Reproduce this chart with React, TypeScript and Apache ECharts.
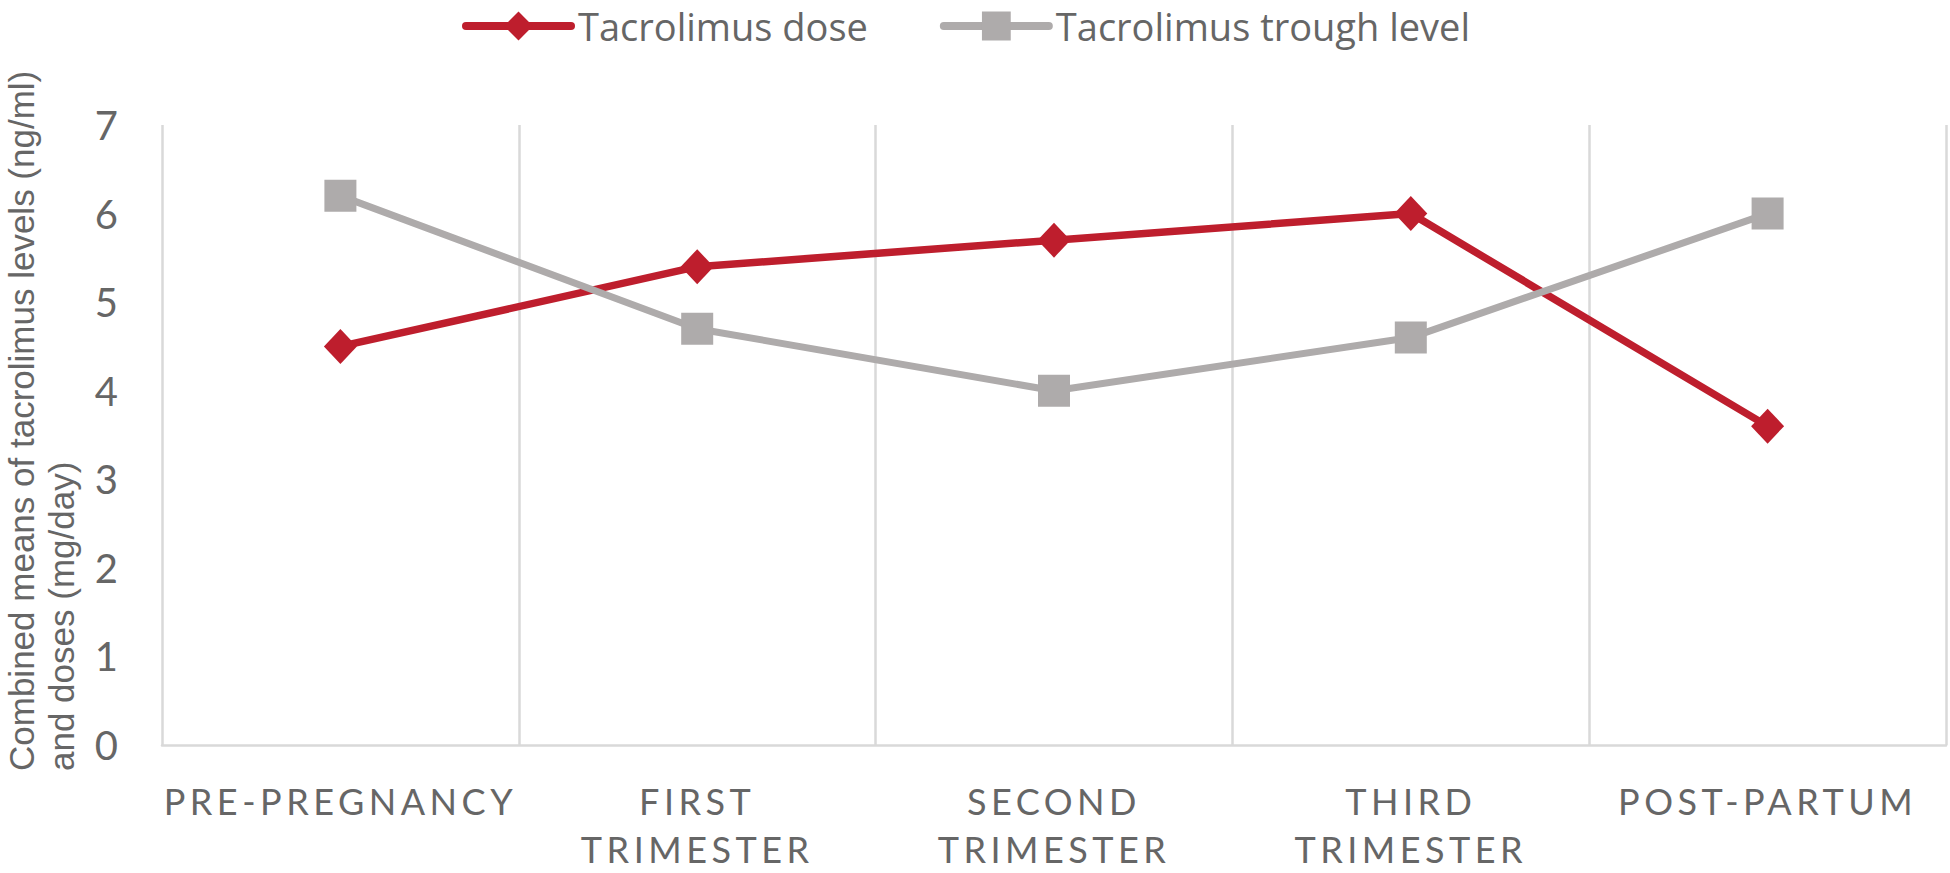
import React, { useEffect, useRef } from "react";
import * as echarts from "echarts";

const categories = ["PRE-PREGNANCY", "FIRST\nTRIMESTER", "SECOND\nTRIMESTER", "THIRD\nTRIMESTER", "POST-PARTUM"];
const doseValues = [4.5, 5.4, 5.7, 6.0, 3.6];
const troughValues = [6.2, 4.7, 4.0, 4.6, 6.0];
const seriesNames = ["Tacrolimus dose", "Tacrolimus trough level"];
const yTitle = "Combined means of tacrolimus levels (ng/ml)\nand doses (mg/day)";
const yMin = 0;
const yMax = 7;
const yInterval = 1;

const RED = "#BE1E2D";
const GREY = "#AEABAB";
const TEXT = "#666666";
const GRIDC = "#D9D9D9";

export default function App() {
  const ref = useRef<HTMLDivElement>(null);
  useEffect(() => {
    if (!ref.current) return;
    const chart = echarts.init(ref.current, undefined, { renderer: "svg" });
    chart.setOption({
      animation: false,
      backgroundColor: "#ffffff",
      legend: {
        left: 457,
        top: 2,
        itemWidth: 105,
        itemHeight: 36,
        itemGap: 72,
        lineStyle: { width: 8, cap: "round" },
        textStyle: { fontFamily: "Open Sans", fontSize: 38, color: TEXT, padding: [0, 0, 0, 2] },
        data: seriesNames,
      },
      grid: { left: 162, right: 4, top: 125, bottom: 119, containLabel: false },
      graphic: [
        {
          type: "text",
          x: 1,
          y: 771,
          rotation: Math.PI / 2,
          style: {
            text: yTitle,
            font: "35px 'Liberation Sans'",
            fill: TEXT,
            textAlign: "left",
            verticalAlign: "top",
            lineHeight: 40,
          },
        },
      ],
      xAxis: {
        type: "category",
        data: categories,
        boundaryGap: true,
        axisTick: { show: false },
        axisLine: { show: true, lineStyle: { color: GRIDC, width: 2.5 } },
        splitLine: { show: true, interval: 0, lineStyle: { color: GRIDC, width: 2.5 } },
        axisLabel: {
          interval: 0,
          fontFamily: "Lato",
          fontSize: 36,
          lineHeight: 48,
          color: TEXT,
          margin: 32,
        },
      },
      yAxis: {
        type: "value",
        min: yMin,
        max: yMax,
        interval: yInterval,
        axisLine: { show: false },
        axisTick: { show: false },
        splitLine: { show: false },
        axisLabel: { fontFamily: "Lato", fontSize: 40, color: TEXT, margin: 44 },
      },
      series: [
        {
          name: seriesNames[0],
          type: "line",
          data: doseValues,
          symbol: "diamond",
          symbolSize: [33, 35],
          itemStyle: { color: RED },
          lineStyle: { color: RED, width: 7.5, cap: "round", join: "round" },
        },
        {
          name: seriesNames[1],
          type: "line",
          data: troughValues,
          symbol: "rect",
          symbolSize: 32,
          itemStyle: { color: GREY },
          lineStyle: { color: GREY, width: 7, cap: "round", join: "round" },
        },
      ],
    });
    return () => chart.dispose();
  }, []);
  return (
    <>
      <style>{`#chart-root text[style*="Lato"][style*="36px"]{letter-spacing:4.5px;}`}</style>
      <div
        id="chart-root"
        ref={ref}
        style={{ position: "absolute", left: 0, top: 0, width: 1950, height: 873 }}
      />
    </>
  );
}
